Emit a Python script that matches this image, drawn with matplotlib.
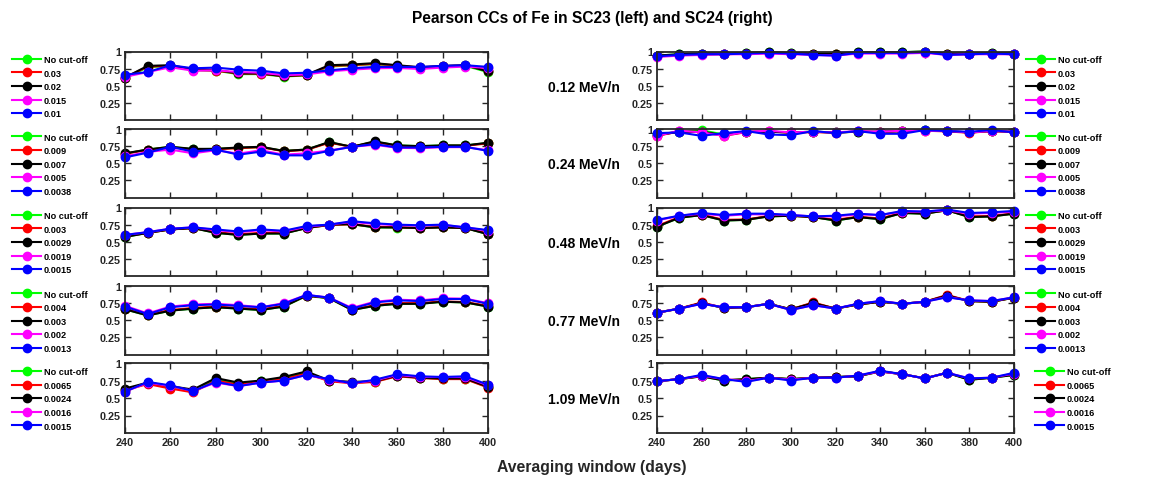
import numpy as np
import matplotlib
matplotlib.use('Agg')
import matplotlib.pyplot as plt
from matplotlib.lines import Line2D

plt.rcParams['font.family'] = ['Liberation Sans', 'DejaVu Sans']
plt.rcParams['font.weight'] = 'bold'

# averaging windows (days)
windows = [240, 250, 260, 270, 280, 290, 300, 310, 320, 330, 340, 350, 360, 370, 380, 390, 400]

energies = ['0.12 MeV/n', '0.24 MeV/n', '0.48 MeV/n', '0.77 MeV/n', '1.09 MeV/n']

# cut-off labels per energy (legend)
cutoffs_012 = ['No cut-off', '0.03', '0.02', '0.015', '0.01']
cutoffs_024 = ['No cut-off', '0.009', '0.007', '0.005', '0.0038']
cutoffs_048 = ['No cut-off', '0.003', '0.0029', '0.0019', '0.0015']
cutoffs_077 = ['No cut-off', '0.004', '0.003', '0.002', '0.0013']
cutoffs_109 = ['No cut-off', '0.0065', '0.0024', '0.0016', '0.0015']

# SC23 (left) - series order: no cut-off, cut1, cut2, cut3, cut4
sc23_012 = [
    [0.61, 0.77, 0.79, 0.73, 0.72, 0.67, 0.67, 0.635, 0.65, 0.78, 0.80, 0.815, 0.79, 0.76, 0.78, 0.79, 0.70],
    [0.62, 0.78, 0.79, 0.73, 0.72, 0.68, 0.675, 0.64, 0.655, 0.79, 0.80, 0.82, 0.795, 0.765, 0.785, 0.795, 0.72],
    [0.62, 0.79, 0.80, 0.74, 0.73, 0.68, 0.68, 0.64, 0.66, 0.80, 0.81, 0.83, 0.80, 0.77, 0.79, 0.80, 0.71],
    [0.63, 0.70, 0.77, 0.72, 0.725, 0.70, 0.69, 0.655, 0.665, 0.71, 0.735, 0.755, 0.76, 0.745, 0.765, 0.78, 0.76],
    [0.66, 0.70, 0.80, 0.755, 0.765, 0.735, 0.72, 0.68, 0.69, 0.725, 0.755, 0.775, 0.775, 0.775, 0.79, 0.80, 0.775],
]
sc23_024 = [
    [0.64, 0.70, 0.74, 0.705, 0.71, 0.725, 0.735, 0.68, 0.70, 0.805, 0.74, 0.815, 0.76, 0.75, 0.76, 0.76, 0.795],
    [0.64, 0.695, 0.735, 0.70, 0.705, 0.72, 0.735, 0.675, 0.695, 0.80, 0.74, 0.81, 0.755, 0.745, 0.755, 0.755, 0.79],
    [0.645, 0.70, 0.74, 0.71, 0.71, 0.73, 0.74, 0.68, 0.70, 0.81, 0.74, 0.82, 0.76, 0.75, 0.76, 0.76, 0.80],
    [0.60, 0.665, 0.70, 0.645, 0.69, 0.64, 0.69, 0.625, 0.645, 0.685, 0.74, 0.77, 0.725, 0.72, 0.735, 0.735, 0.69],
    [0.585, 0.655, 0.74, 0.67, 0.70, 0.625, 0.67, 0.615, 0.615, 0.68, 0.74, 0.78, 0.73, 0.73, 0.74, 0.74, 0.68],
]
sc23_048 = [
    [0.57, 0.63, 0.68, 0.70, 0.63, 0.60, 0.62, 0.62, 0.70, 0.745, 0.755, 0.71, 0.705, 0.70, 0.71, 0.70, 0.61],
    [0.58, 0.63, 0.68, 0.70, 0.64, 0.61, 0.63, 0.63, 0.70, 0.745, 0.755, 0.72, 0.71, 0.70, 0.715, 0.70, 0.62],
    [0.57, 0.63, 0.68, 0.70, 0.63, 0.60, 0.62, 0.62, 0.70, 0.75, 0.76, 0.71, 0.71, 0.70, 0.71, 0.70, 0.61],
    [0.60, 0.64, 0.69, 0.71, 0.67, 0.64, 0.67, 0.65, 0.72, 0.75, 0.79, 0.76, 0.74, 0.735, 0.745, 0.71, 0.66],
    [0.60, 0.64, 0.69, 0.71, 0.68, 0.65, 0.68, 0.66, 0.73, 0.75, 0.80, 0.77, 0.75, 0.74, 0.75, 0.71, 0.67],
]
sc23_077 = [
    [0.66, 0.57, 0.64, 0.67, 0.69, 0.67, 0.65, 0.70, 0.855, 0.82, 0.65, 0.71, 0.74, 0.74, 0.77, 0.76, 0.70],
    [0.67, 0.58, 0.65, 0.68, 0.70, 0.68, 0.66, 0.71, 0.86, 0.825, 0.655, 0.72, 0.75, 0.75, 0.775, 0.765, 0.71],
    [0.66, 0.57, 0.64, 0.67, 0.69, 0.67, 0.65, 0.70, 0.86, 0.825, 0.65, 0.71, 0.74, 0.74, 0.77, 0.76, 0.70],
    [0.71, 0.60, 0.70, 0.73, 0.74, 0.72, 0.69, 0.75, 0.87, 0.83, 0.68, 0.77, 0.80, 0.79, 0.82, 0.815, 0.75],
    [0.70, 0.59, 0.69, 0.72, 0.73, 0.71, 0.69, 0.74, 0.87, 0.83, 0.67, 0.76, 0.79, 0.78, 0.81, 0.81, 0.74],
]
sc23_109 = [
    [0.62, 0.71, 0.65, 0.60, 0.77, 0.70, 0.74, 0.78, 0.86, 0.745, 0.72, 0.735, 0.815, 0.79, 0.775, 0.775, 0.655],
    [0.61, 0.70, 0.635, 0.58, 0.75, 0.69, 0.73, 0.77, 0.85, 0.74, 0.71, 0.73, 0.81, 0.785, 0.77, 0.77, 0.65],
    [0.635, 0.72, 0.67, 0.62, 0.785, 0.72, 0.75, 0.80, 0.88, 0.75, 0.73, 0.74, 0.82, 0.79, 0.78, 0.78, 0.66],
    [0.59, 0.72, 0.67, 0.60, 0.72, 0.67, 0.72, 0.75, 0.83, 0.76, 0.71, 0.75, 0.83, 0.80, 0.80, 0.80, 0.68],
    [0.59, 0.73, 0.68, 0.60, 0.73, 0.67, 0.72, 0.75, 0.83, 0.77, 0.71, 0.76, 0.84, 0.81, 0.80, 0.81, 0.69],
]

# SC24 (right)
sc24_012 = [
    [0.94, 0.96, 0.97, 0.97, 0.98, 0.99, 0.98, 0.97, 0.97, 0.99, 0.99, 0.99, 1.0, 0.97, 0.97, 0.98, 0.97],
    [0.93, 0.95, 0.96, 0.96, 0.97, 0.98, 0.97, 0.96, 0.96, 0.98, 0.98, 0.98, 0.99, 0.96, 0.96, 0.97, 0.96],
    [0.94, 0.96, 0.97, 0.97, 0.98, 0.99, 0.98, 0.97, 0.97, 0.99, 0.99, 0.99, 1.0, 0.97, 0.97, 0.98, 0.97],
    [0.92, 0.94, 0.95, 0.96, 0.96, 0.97, 0.96, 0.95, 0.94, 0.97, 0.97, 0.97, 0.98, 0.95, 0.96, 0.96, 0.96],
    [0.93, 0.95, 0.96, 0.96, 0.97, 0.98, 0.97, 0.95, 0.94, 0.98, 0.98, 0.98, 0.99, 0.95, 0.96, 0.97, 0.96],
]
sc24_024 = [
    [0.92, 0.96, 0.98, 0.92, 0.96, 0.96, 0.95, 0.96, 0.95, 0.96, 0.96, 0.97, 0.98, 0.97, 0.95, 0.97, 0.96],
    [0.90, 0.965, 0.955, 0.90, 0.955, 0.965, 0.945, 0.955, 0.945, 0.965, 0.955, 0.97, 0.975, 0.965, 0.945, 0.97, 0.955],
    [0.91, 0.96, 0.96, 0.91, 0.96, 0.96, 0.95, 0.96, 0.95, 0.96, 0.96, 0.97, 0.98, 0.97, 0.95, 0.97, 0.96],
    [0.90, 0.975, 0.95, 0.90, 0.96, 0.975, 0.95, 0.96, 0.95, 0.97, 0.96, 0.975, 0.975, 0.97, 0.95, 0.97, 0.96],
    [0.94, 0.95, 0.90, 0.94, 0.97, 0.92, 0.91, 0.97, 0.94, 0.97, 0.93, 0.93, 0.985, 0.97, 0.96, 0.985, 0.95],
]
sc24_048 = [
    [0.72, 0.85, 0.89, 0.81, 0.82, 0.87, 0.88, 0.86, 0.81, 0.86, 0.83, 0.92, 0.91, 0.96, 0.86, 0.87, 0.91],
    [0.73, 0.86, 0.895, 0.82, 0.825, 0.875, 0.88, 0.86, 0.82, 0.865, 0.84, 0.925, 0.915, 0.96, 0.87, 0.875, 0.915],
    [0.72, 0.85, 0.89, 0.81, 0.82, 0.87, 0.88, 0.86, 0.81, 0.86, 0.83, 0.92, 0.91, 0.96, 0.86, 0.87, 0.91],
    [0.81, 0.88, 0.91, 0.88, 0.90, 0.90, 0.89, 0.87, 0.87, 0.90, 0.89, 0.94, 0.94, 0.96, 0.91, 0.92, 0.94],
    [0.82, 0.88, 0.92, 0.89, 0.91, 0.91, 0.89, 0.87, 0.88, 0.91, 0.89, 0.95, 0.94, 0.97, 0.92, 0.93, 0.95],
]
sc24_077 = [
    [0.61, 0.67, 0.75, 0.68, 0.69, 0.74, 0.66, 0.75, 0.67, 0.73, 0.77, 0.74, 0.77, 0.86, 0.78, 0.77, 0.83],
    [0.61, 0.67, 0.76, 0.68, 0.69, 0.74, 0.66, 0.76, 0.67, 0.73, 0.77, 0.74, 0.77, 0.87, 0.78, 0.77, 0.83],
    [0.61, 0.67, 0.75, 0.68, 0.69, 0.74, 0.66, 0.75, 0.67, 0.73, 0.77, 0.74, 0.77, 0.86, 0.78, 0.77, 0.83],
    [0.61, 0.67, 0.74, 0.69, 0.69, 0.74, 0.65, 0.72, 0.67, 0.74, 0.78, 0.74, 0.77, 0.84, 0.79, 0.78, 0.835],
    [0.61, 0.67, 0.74, 0.69, 0.69, 0.74, 0.65, 0.72, 0.67, 0.74, 0.78, 0.74, 0.77, 0.835, 0.79, 0.78, 0.835],
]
sc24_109 = [
    [0.74, 0.77, 0.81, 0.75, 0.77, 0.79, 0.77, 0.79, 0.80, 0.81, 0.88, 0.84, 0.78, 0.86, 0.76, 0.79, 0.83],
    [0.74, 0.77, 0.815, 0.76, 0.76, 0.79, 0.765, 0.79, 0.795, 0.815, 0.88, 0.84, 0.78, 0.86, 0.77, 0.79, 0.84],
    [0.74, 0.77, 0.81, 0.75, 0.77, 0.79, 0.77, 0.79, 0.80, 0.81, 0.88, 0.84, 0.78, 0.86, 0.76, 0.79, 0.83],
    [0.74, 0.77, 0.82, 0.77, 0.74, 0.79, 0.76, 0.79, 0.79, 0.82, 0.88, 0.84, 0.78, 0.86, 0.78, 0.79, 0.85],
    [0.74, 0.77, 0.83, 0.77, 0.73, 0.79, 0.75, 0.79, 0.79, 0.82, 0.89, 0.84, 0.78, 0.86, 0.78, 0.79, 0.86],
]

left_data = [sc23_012, sc23_024, sc23_048, sc23_077, sc23_109]
right_data = [sc24_012, sc24_024, sc24_048, sc24_077, sc24_109]
cutoffs = [cutoffs_012, cutoffs_024, cutoffs_048, cutoffs_077, cutoffs_109]

colors = ['#00ff00', '#ff0000', '#000000', '#ff00ff', '#0000ff']

W, H = 1158, 481
fig = plt.figure(figsize=(W / 100, H / 100), dpi=100)

def px_box(x0, y0, x1, y1):
    # pixel box (top-left origin) -> figure fraction
    return [x0 / W, 1 - y1 / H, (x1 - x0) / W, (y1 - y0) / H]

rows_px = [(52.5, 121), (130, 198.5), (208.5, 277), (287, 355.5), (364, 434)]
left_x = (125, 488)
right_x = (657, 1014)
legend_x_right = [1026, 1026, 1026, 1026, 1035]
axis_col = '#262626'

def style_axes(ax, last):
    ax.set_xlim(240, 400)
    ax.set_ylim(0, 1)
    ax.set_xticks(np.arange(240, 401, 20))
    ax.set_yticks([0.25, 0.5, 0.75, 1])
    ax.set_yticklabels(['0.25', '0.5', '0.75', '1'])
    if not last:
        ax.set_xticklabels([])
    ax.tick_params(direction='in', top=True, right=True, length=4, width=1,
                   labelsize=7.8, pad=3, colors=axis_col)
    for sp in ax.spines.values():
        sp.set_linewidth(1.3)
        sp.set_color(axis_col)

def add_legend(x_px, yc_px, labels):
    handles = [Line2D([], [], color=c, marker='o', lw=1.5, ms=6) for c in colors]
    fig.legend(handles, labels, loc='center left',
               bbox_to_anchor=(x_px / W, 1 - yc_px / H),
               frameon=False, fontsize=6.6, handlelength=3.2, handletextpad=0.3,
               labelspacing=0.5, borderpad=0, borderaxespad=0)

for i in range(5):
    y0, y1 = rows_px[i]
    last = (i == 4)
    for side, (xr, data) in enumerate([(left_x, left_data[i]), (right_x, right_data[i])]):
        ax = fig.add_axes(px_box(xr[0], y0, xr[1], y1))
        for k in range(5):
            ax.plot(windows, data[k], '-o', color=colors[k], lw=1.5, ms=6, clip_on=False)
        style_axes(ax, last)
    yc = (y0 + y1) / 2
    add_legend(12, yc + 1, cutoffs[i])
    add_legend(legend_x_right[i], yc + 1, cutoffs[i])
    fig.text(583.5 / W, 1 - (yc + 1) / H, energies[i], ha='center', va='center',
             fontsize=10, fontweight='bold')

fig.text(592 / W, 1 - 18 / H, 'Pearson CCs of Fe in SC23 (left) and SC24 (right)',
         ha='center', va='center', fontsize=11.2, fontweight='bold')
fig.text(592 / W, 1 - 468 / H, 'Averaging window (days)', ha='center', va='center',
         fontsize=11.3, fontweight='bold', color=axis_col)

fig.savefig('out.png', dpi=100)
